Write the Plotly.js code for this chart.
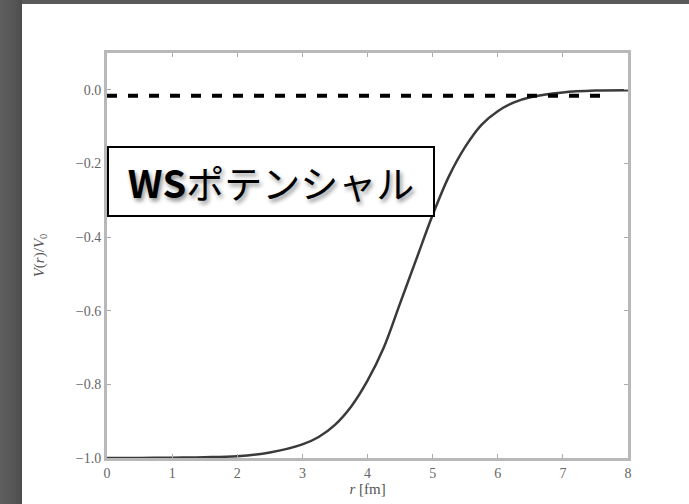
<!DOCTYPE html>
<html>
<head>
<meta charset="utf-8">
<script src="https://cdn.plot.ly/plotly-3.0.1.min.js"></script>
<style>
html,body{margin:0;padding:0;width:689px;height:504px;overflow:hidden;
background:linear-gradient(to right,#5f5f5f 0px,#555 15px,#4c4c4c 22px,#5a5a5a 22px);}
#chart{position:absolute;left:22px;top:4px;width:667px;height:500px;}
</style>
</head>
<body>
<div id="chart"></div>
<script>
// Woods-Saxon potential curve
const rValues = [0, 0.5, 1.0, 1.5, 2.0, 2.5, 3.0, 3.25, 3.5, 3.75, 4.0, 4.25, 4.5, 4.75, 5.0, 5.25, 5.5, 5.75, 6.0, 6.25, 6.5, 7.0, 7.5, 8.0];
const vValues = [-1.0, -1.0, -0.999, -0.998, -0.995, -0.985, -0.963, -0.943, -0.91, -0.86, -0.79, -0.70, -0.58, -0.46, -0.34, -0.235, -0.155, -0.095, -0.058, -0.034, -0.02, -0.007, -0.002, -0.001];
// dashed reference line near zero
const dashR = [0, 7.7];
const dashV = [-0.016, -0.016];
const yTicks = [0.0, -0.2, -0.4, -0.6, -0.8, -1.0];
const xTicks = [0, 1, 2, 3, 4, 5, 6, 7, 8];
const boxLabel = "<b>WS</b>ポテンシャル";

const traces = [
  {x: rValues, y: vValues, mode: 'lines', line: {color: '#3a3a3a', width: 2.5, shape: 'spline'}, hoverinfo: 'skip'},
  {x: dashR, y: dashV, mode: 'lines', line: {color: '#000', width: 4, dash: '10px,11px'}, hoverinfo: 'skip'}
];

const serif = 'Liberation Serif, Times New Roman, serif';
const tickFont = {family: serif, size: 14, color: '#666'};
const layout = {
  width: 667, height: 500,
  margin: {l: 85, r: 61, t: 49, b: 46},
  paper_bgcolor: '#fff', plot_bgcolor: '#fff',
  showlegend: false,
  font: {family: serif},
  xaxis: {
    range: [0, 8], tickvals: xTicks, ticktext: xTicks.map(String),
    showline: true, mirror: 'ticks', linecolor: '#b8b8b8', linewidth: 3,
    ticks: 'inside', ticklen: 4, tickcolor: '#aaa', tickwidth: 1,
    showgrid: false, zeroline: false, tickfont: tickFont,
    title: {text: '<i>r</i> [fm]', font: {family: serif, size: 15, color: '#555'}, standoff: 4}
  },
  yaxis: {
    range: [-1, 0.1], tickvals: yTicks, tickformat: '.1f',
    showline: true, mirror: 'ticks', linecolor: '#b8b8b8', linewidth: 3,
    ticks: 'inside', ticklen: 4, tickcolor: '#aaa', tickwidth: 1,
    showgrid: false, zeroline: false, tickfont: tickFont,
    title: {text: '<i>V</i>(<i>r</i>)/<i>V</i><sub>0</sub>', font: {family: serif, size: 15, color: '#555'}, standoff: 28}
  },
  annotations: [{
    xref: 'paper', yref: 'paper', x: 0.315, y: 0.683, xanchor: 'center', yanchor: 'middle',
    text: boxLabel, showarrow: false,
    width: 324, height: 67, bgcolor: '#fff', bordercolor: '#000', borderwidth: 2, borderpad: 0,
    font: {family: 'Noto Sans CJK JP, sans-serif', size: 38, color: '#000', weight: 400, shadow: '2px 3px 4px rgba(0,0,0,0.45)'}
  }]
};
Plotly.newPlot('chart', traces, layout, {displayModeBar: false, staticPlot: true});
</script>
</body>
</html>
